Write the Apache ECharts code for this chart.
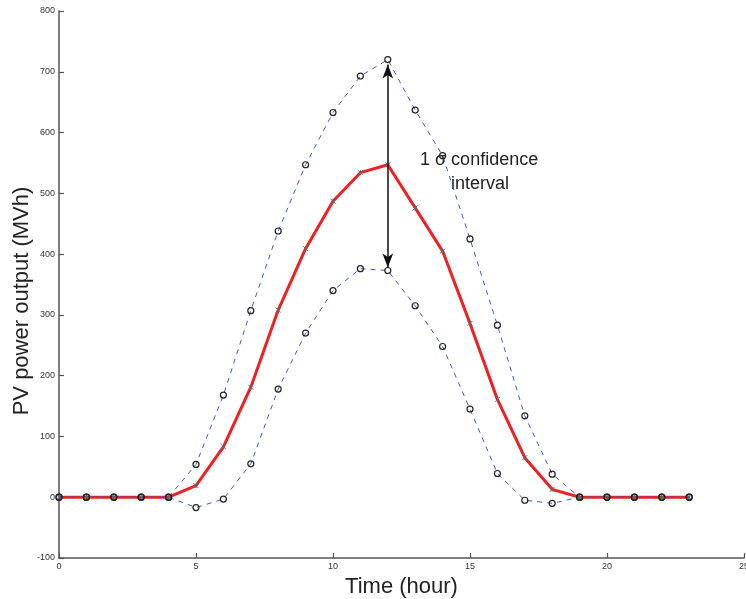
<!DOCTYPE html>
<html><head><meta charset="utf-8">
<script src="https://cdn.jsdelivr.net/npm/echarts@6/dist/echarts.min.js"></script>
<style>html,body{margin:0;padding:0;background:#fff}#c{width:746px;height:599px}</style>
</head><body><div id="c"></div>
<script>
const hours = [0,1,2,3,4,5,6,7,8,9,10,11,12,13,14,15,16,17,18,19,20,21,22,23];
const meanPV  = [0,0,0,0,0,19,83,181,308,409,487,534,547,476,405,286,161,65,13,0,0,0,0,0];
const upperPV = [0,0,0,0,0,54,168,307,438,547,633,693,720,637,562,425,283,134,38,0,0,0,0,0];
const lowerPV = [0,0,0,0,0,-17,-3,55,178,270,340,376,373,315,248,145,39,-5,-10,0,0,0,0,0];
const xTicks = [0,5,10,15,20,25];
const yTicks = [-100,0,100,200,300,400,500,600,700,800];
const arrowSpan = [12, 712, 378];
const annotation = ['1 σ confidence', 'interval'];
const yTitle = 'PV power output (MVh)';

const font = '"Liberation Sans Narrow","Liberation Sans",Arial,sans-serif';
const pair = a => hours.map((h,i)=>[h,a[i]]);
const chart = echarts.init(document.getElementById('c'));
const axisCommon = {
  axisLine:{show:true,onZero:false,lineStyle:{color:'#555',width:1.5}},
  axisTick:{show:true,inside:true,length:5,lineStyle:{color:'#555',width:1.2}},
  splitLine:{show:false},
  axisLabel:{color:'#333',fontSize:9,fontFamily:font,margin:4}
};
const boundStyle = {
  type:'line', symbol:'circle', symbolSize:6, z:4, showSymbol:true, showAllSymbol:true,
  lineStyle:{color:'#3c5cc0',width:1,type:[5,5]},
  itemStyle:{color:'rgba(0,0,0,0)',borderColor:'#222',borderWidth:1.2,opacity:1}
};
chart.setOption({
  animation:false,
  grid:{left:59,right:2,top:11,bottom:41,outerBoundsMode:'none',containLabel:false},
  xAxis:Object.assign({type:'value',min:xTicks[0],max:xTicks[xTicks.length-1],interval:5,
    name:'Time (hour)',nameLocation:'middle',nameGap:17,
    nameTextStyle:{fontSize:22,color:'#222',fontFamily:font}},axisCommon),
  yAxis:Object.assign({type:'value',min:yTicks[0],max:yTicks[yTicks.length-1],interval:100},axisCommon),
  series:[
    {type:'line',data:pair(meanPV),z:3,showSymbol:true,showAllSymbol:true,
     symbol:'path://M0,0L10,10M10,0L0,10M5,0L5,10',symbolSize:5,
     lineStyle:{color:'#ee2024',width:3},
     itemStyle:{color:'none',borderColor:'#666',borderWidth:1},
     markLine:{silent:true,symbol:['arrow','arrow'],symbolSize:[8,14],
       lineStyle:{color:'#111',width:1.5,type:'solid'},label:{show:false},
       data:[[{coord:[arrowSpan[0],arrowSpan[1]]},{coord:[arrowSpan[0],arrowSpan[2]]}]]}},
    Object.assign({data:pair(upperPV)},boundStyle),
    Object.assign({data:pair(lowerPV)},boundStyle)
  ],
  graphic:[
    {type:'text',x:22,y:301,rotation:Math.PI/2,
     style:{text:yTitle,fontSize:22,fontFamily:font,fill:'#222',align:'center',verticalAlign:'middle'}},
    {type:'text',left:420,top:151,style:{text:annotation[0],fontSize:18,fontFamily:font,fill:'#222'}},
    {type:'text',left:451,top:175,style:{text:annotation[1],fontSize:18,fontFamily:font,fill:'#222'}}
  ]
});
</script></body></html>
